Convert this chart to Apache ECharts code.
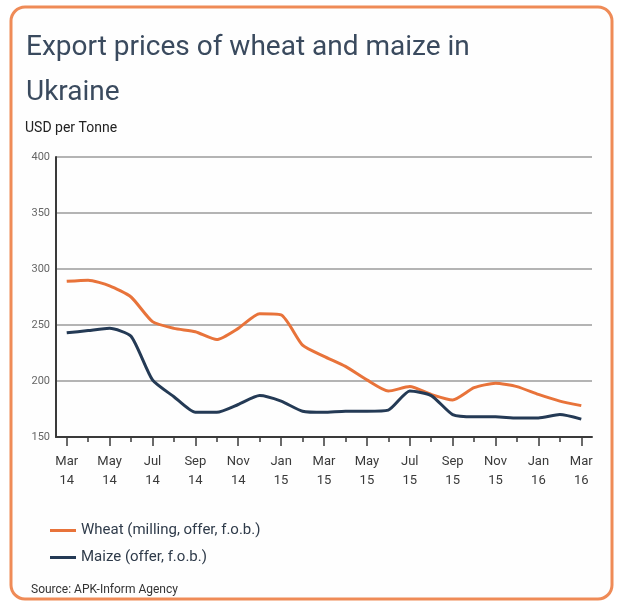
<!DOCTYPE html>
<html>
<head>
<meta charset="utf-8">
<script src="https://cdn.jsdelivr.net/npm/echarts@6/dist/echarts.min.js"></script>
<style>
  html, body { margin: 0; padding: 0; background: #ffffff; }
  #chart { width: 619px; height: 609px; }
</style>
</head>
<body>
<div id="chart"></div>
<script>
// monthly points, Mar 2014 .. Mar 2016
const months = [
    'Mar\n14', 'Apr\n14', 'May\n14', 'Jun\n14', 'Jul\n14', 'Aug\n14', 'Sep\n14', 'Oct\n14', 'Nov\n14', 'Dec\n14',
    'Jan\n15', 'Feb\n15', 'Mar\n15', 'Apr\n15', 'May\n15', 'Jun\n15', 'Jul\n15', 'Aug\n15', 'Sep\n15', 'Oct\n15',
    'Nov\n15', 'Dec\n15', 'Jan\n16', 'Feb\n16', 'Mar\n16'
];
const wheat = [289, 290, 285, 275, 253, 247, 244, 237, 247, 260, 259, 232, 222, 213, 201, 191, 195, 188, 183, 194, 198, 195, 188, 182, 178];
const maize = [243, 245, 247, 240, 201, 186, 172, 172, 179, 187, 182, 173, 172, 173, 173, 174, 191, 187, 170, 168, 168, 167, 167, 170, 166];
const yTicks = [150, 200, 250, 300, 350, 400];

const titleText = 'Export prices of wheat and maize in\nUkraine';
const unitText = 'USD per Tonne';
const sourceText = 'Source: APK-Inform Agency';

const FONT = 'Roboto, "Noto Sans", sans-serif';
const ORANGE = '#e8733a';
const NAVY = '#243a55';

const chart = echarts.init(document.getElementById('chart'));

const option = {
    backgroundColor: '#ffffff',
    animation: false,
    graphic: [{
        type: 'rect',
        shape: { x: 11, y: 7, width: 601, height: 592, r: 14 },
        style: { fill: '#fefefe', stroke: '#ef8b57', lineWidth: 3 },
        z: -10
    }],
    title: [
        {
            text: titleText,
            left: 21, top: 20,
            textStyle: { fontFamily: FONT, fontSize: 28, fontWeight: 'normal', color: '#3a4a5e', lineHeight: 45 }
        },
        {
            text: unitText,
            left: 20, top: 116,
            textStyle: { fontFamily: FONT, fontSize: 14, fontWeight: 'normal', color: '#222' }
        },
        {
            text: sourceText,
            left: 26, top: 579,
            textStyle: { fontFamily: FONT, fontSize: 12, fontWeight: 'normal', color: '#333' }
        }
    ],
    legend: {
        orient: 'vertical',
        left: 45, top: 518,
        itemWidth: 26, itemHeight: 3,
        itemGap: 12,
        icon: 'rect',
        textStyle: { fontFamily: FONT, fontSize: 15, color: '#2f3b4a' },
        data: ['Wheat (milling, offer, f.o.b.)', 'Maize (offer, f.o.b.)']
    },
    grid: { left: 56, right: 27, top: 157, bottom: 172 },
    xAxis: [
        {
            type: 'category',
            data: months,
            boundaryGap: true,
            axisLine: { show: true, lineStyle: { color: '#3a3a3a', width: 2 } },
            axisTick: {
                show: true, alignWithLabel: true, interval: 0, length: 5,
                lineStyle: { color: '#3a3a3a', width: 1.5 }
            },
            axisLabel: {
                interval: 1, margin: 15,
                fontFamily: FONT, fontSize: 13, color: '#3a3a3a', lineHeight: 19
            },
            splitLine: { show: false }
        },
        {
            type: 'category',
            data: months,
            position: 'bottom',
            boundaryGap: true,
            axisLine: { show: false },
            axisTick: {
                show: true, alignWithLabel: true, interval: 1, length: 9,
                lineStyle: { color: '#3a3a3a', width: 1.5 }
            },
            axisLabel: { show: false },
            splitLine: { show: false }
        }
    ],
    yAxis: {
        type: 'value',
        min: yTicks[0],
        max: yTicks[yTicks.length - 1],
        interval: 50,
        axisLine: { show: true, lineStyle: { color: '#3a3a3a', width: 2 } },
        axisTick: { show: false },
        axisLabel: { margin: 6, fontFamily: FONT, fontSize: 11, color: '#666' },
        splitLine: { lineStyle: { color: '#b4b4b4', width: 2 } }
    },
    series: [
        {
            name: 'Wheat (milling, offer, f.o.b.)',
            type: 'line',
            data: wheat,
            smooth: 0.2,
            symbol: 'none',
            lineStyle: { color: ORANGE, width: 3 },
            itemStyle: { color: ORANGE }
        },
        {
            name: 'Maize (offer, f.o.b.)',
            type: 'line',
            data: maize,
            smooth: 0.2,
            symbol: 'none',
            lineStyle: { color: NAVY, width: 3 },
            itemStyle: { color: NAVY }
        }
    ]
};

chart.setOption(option);
</script>
</body>
</html>
